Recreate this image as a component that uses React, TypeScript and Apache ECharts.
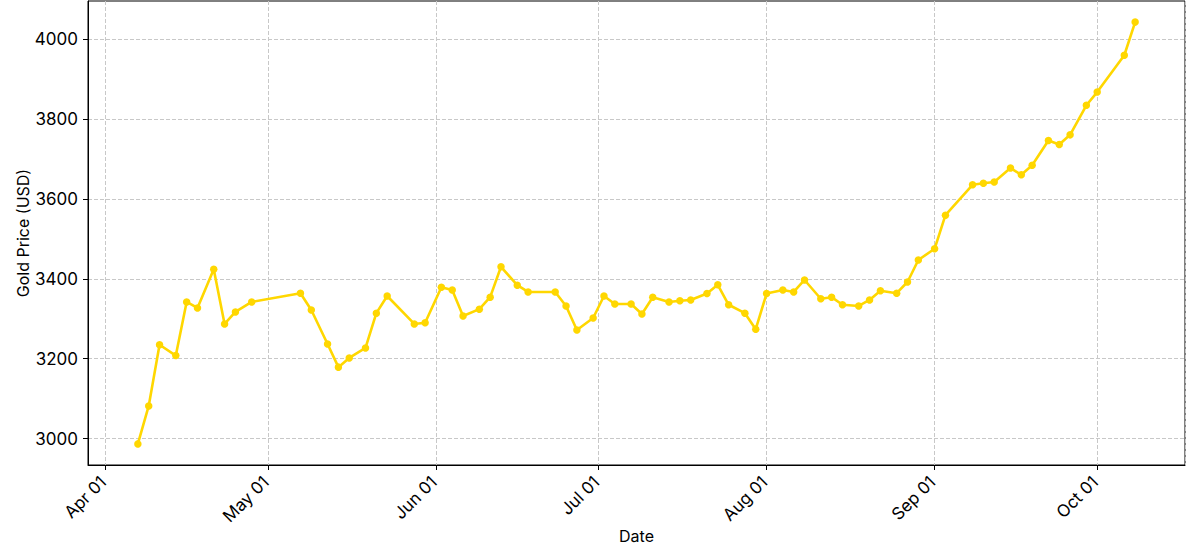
import React, { useEffect, useRef } from "react";
import * as echarts from "echarts";

const dates: string[] = [
  "2025-04-07", "2025-04-09", "2025-04-11", "2025-04-14", "2025-04-16", "2025-04-18",
  "2025-04-21", "2025-04-23", "2025-04-25", "2025-04-28", "2025-05-07", "2025-05-09",
  "2025-05-12", "2025-05-14", "2025-05-16", "2025-05-19", "2025-05-21", "2025-05-23",
  "2025-05-28", "2025-05-30", "2025-06-02", "2025-06-04", "2025-06-06", "2025-06-09",
  "2025-06-11", "2025-06-13", "2025-06-16", "2025-06-18", "2025-06-23", "2025-06-25",
  "2025-06-27", "2025-06-30", "2025-07-02", "2025-07-04", "2025-07-07", "2025-07-09",
  "2025-07-11", "2025-07-14", "2025-07-16", "2025-07-18", "2025-07-21", "2025-07-23",
  "2025-07-25", "2025-07-28", "2025-07-30", "2025-08-01", "2025-08-04", "2025-08-06",
  "2025-08-08", "2025-08-11", "2025-08-13", "2025-08-15", "2025-08-18", "2025-08-20",
  "2025-08-22", "2025-08-25", "2025-08-27", "2025-08-29", "2025-09-01", "2025-09-03",
  "2025-09-08", "2025-09-10", "2025-09-12", "2025-09-15", "2025-09-17", "2025-09-19",
  "2025-09-22", "2025-09-24", "2025-09-26", "2025-09-29", "2025-10-01", "2025-10-06",
  "2025-10-08",
];

const prices: number[] = [
  2987, 3082, 3235, 3208, 3342, 3327,
  3424, 3287, 3317, 3342, 3364, 3322,
  3237, 3179, 3202, 3227, 3314, 3357,
  3287, 3290, 3379, 3372, 3307, 3324,
  3354, 3430, 3384, 3367, 3367, 3332,
  3272, 3302, 3357, 3337, 3337, 3312,
  3354, 3342, 3345, 3347, 3363, 3385,
  3335, 3314, 3274, 3363, 3372, 3367,
  3397, 3350, 3354, 3335, 3332, 3347,
  3370, 3364, 3392, 3447, 3475, 3559,
  3635, 3639, 3642, 3677, 3660, 3684,
  3746, 3736, 3760, 3834, 3867, 3959,
  4042,
];

const priceTicks: number[] = [3000, 3200, 3400, 3600, 3800, 4000];
const monthNames: string[] = ["Jan", "Feb", "Mar", "Apr", "May", "Jun", "Jul", "Aug", "Sep", "Oct", "Nov", "Dec"];

const toTs = (s: string): number => {
  const [y, m, d] = s.split("-").map(Number);
  return new Date(y, m - 1, d).getTime();
};

const FONT = "Inter";
const TICK_SIZE = 17;

export default function App() {
  const ref = useRef<HTMLDivElement>(null);
  useEffect(() => {
    if (!ref.current) return;
    const chart = echarts.init(ref.current, undefined, { renderer: "svg" });
    const ts = dates.map(toTs);
    const xSpan = ts[ts.length - 1] - ts[0];
    const xMin = ts[0] - 0.05 * xSpan;
    const xMax = ts[ts.length - 1] + 0.05 * xSpan;
    const pMin = Math.min(...prices);
    const pMax = Math.max(...prices);
    const ySpan = pMax - pMin;
    const yMin = pMin - 0.05 * ySpan;
    const yMax = pMax + 0.05 * ySpan;

    chart.setOption({
      animation: false,
      backgroundColor: "#ffffff",
      textStyle: { fontFamily: FONT },
      grid: {
        left: 88,
        right: 15,
        top: 1,
        bottom: 95,
        containLabel: false,
        outerBoundsMode: "none",
        show: true,
        borderColor: "#000000",
        borderWidth: 1,
        backgroundColor: "transparent",
      },
      xAxis: {
        type: "time",
        min: xMin,
        max: xMax,
        splitNumber: 7,
        name: "Date",
        nameLocation: "middle",
        nameGap: 63,
        nameMoveOverlap: false,
        nameTextStyle: { fontSize: 16, color: "#000", fontFamily: FONT },
        axisLine: { show: true, lineStyle: { color: "#000", width: 1 } },
        axisTick: { show: true, inside: false, length: 5, lineStyle: { color: "#000" } },
        axisLabel: {
          rotate: 45,
          margin: 12,
          fontSize: TICK_SIZE,
          fontWeight: "normal",
          color: "#000",
          fontFamily: FONT,
          showMinLabel: false,
          showMaxLabel: false,
          formatter: (v: number) => {
            const d = new Date(v);
            return `{t|${monthNames[d.getMonth()]} ${String(d.getDate()).padStart(2, "0")}}`;
          },
          rich: {
            t: { fontSize: TICK_SIZE, fontWeight: "normal", color: "#000", fontFamily: FONT, padding: [0, 3, 0, 0] },
          },
        },
        splitLine: { show: true, lineStyle: { color: "#c8c8c8", type: [4, 2], width: 1 } },
      },
      yAxis: {
        type: "value",
        min: yMin,
        max: yMax,
        name: "Gold Price (USD)",
        nameLocation: "middle",
        nameGap: 57,
        nameMoveOverlap: false,
        nameTextStyle: { fontSize: 16, color: "#000", fontFamily: FONT },
        axisLine: { show: true, lineStyle: { color: "#000", width: 1 } },
        axisTick: { show: true, inside: false, length: 5, lineStyle: { color: "#000" }, customValues: priceTicks },
        axisLabel: {
          customValues: priceTicks,
          margin: 10,
          fontSize: TICK_SIZE,
          color: "#000",
          fontFamily: FONT,
          formatter: (v: number) => String(Math.round(v)),
        },
        splitLine: { show: true, lineStyle: { color: "#c8c8c8", type: [4, 2], width: 1 } },
      },
      series: [
        {
          type: "line",
          data: ts.map((t, i) => [t, prices[i]]),
          symbol: "circle",
          symbolSize: 7.5,
          showSymbol: true,
          itemStyle: { color: "#FFD700" },
          lineStyle: { color: "#FFD700", width: 2.6 },
          emphasis: { disabled: true },
        },
      ],
    });
    return () => chart.dispose();
  }, []);
  return (
    <div
      ref={ref}
      style={{ position: "fixed", left: 0, top: 0, width: 1200, height: 560, background: "#fff" }}
    />
  );
}
